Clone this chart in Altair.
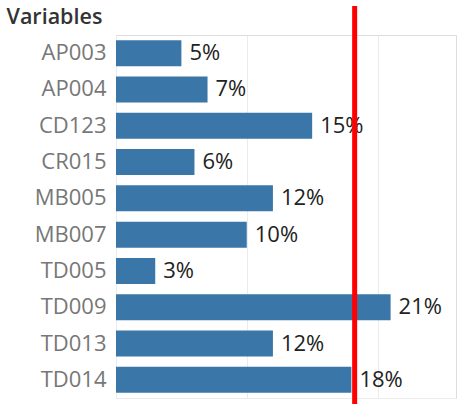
import altair as alt
import pandas as pd

variables = ["AP003", "AP004", "CD123", "CR015", "MB005", "MB007", "TD005", "TD009", "TD013", "TD014"]
pct = [5, 7, 15, 6, 12, 10, 3, 21, 12, 18]
threshold = [18.25]

df = pd.DataFrame({"Variables": variables, "pct": pct})
df["label"] = df["pct"].astype(str) + "%"
ref = pd.DataFrame({"t": threshold})

FONT = "Open Sans"
W, H = 340, 363

base = alt.Chart(df)
x_scale = alt.Scale(domain=[0, 26], nice=False, zero=True)

bars = base.mark_bar(color="#3B76A8", size=26).encode(
    x=alt.X("pct:Q", scale=x_scale,
            axis=alt.Axis(values=[0, 10, 20], labels=False, ticks=False, title=None,
                          grid=True, gridColor="#EBEBEB", domainColor="#EBEBEB")),
    y=alt.Y("Variables:N", sort=variables,
            axis=alt.Axis(title="Variables", titleAngle=0, titleX=-110, titleY=-12,
                          titleAlign="left", titleBaseline="alphabetic",
                          titleFont=FONT, titleFontSize=21.5, titleFontWeight=600,
                          titleColor="#333333",
                          labelFont=FONT, labelFontSize=22, labelColor="#777777",
                          labelPadding=10, ticks=False, domainColor="#EBEBEB")),
)

labels = base.mark_text(align="left", baseline="middle", dx=8, font=FONT,
                        fontSize=22, color="#222222").encode(
    x=alt.X("pct:Q", scale=x_scale),
    y=alt.Y("Variables:N", sort=variables),
    text="label:N",
)

rule = alt.Chart(ref).mark_rule(color="#FF0000", strokeWidth=5).encode(
    x=alt.X("t:Q", scale=x_scale),
    y=alt.value(-29),
    y2=alt.value(H + 6),
)

chart = alt.layer(bars, labels, rule).properties(
    width=W, height=H,
    autosize=alt.AutoSizeParams(type="none"),
    padding={"left": 116, "top": 35, "right": 6, "bottom": 6},
).configure_view(stroke=None).configure(background="white")

chart.save("out.html", embed_options={"renderer": "svg", "actions": False})
